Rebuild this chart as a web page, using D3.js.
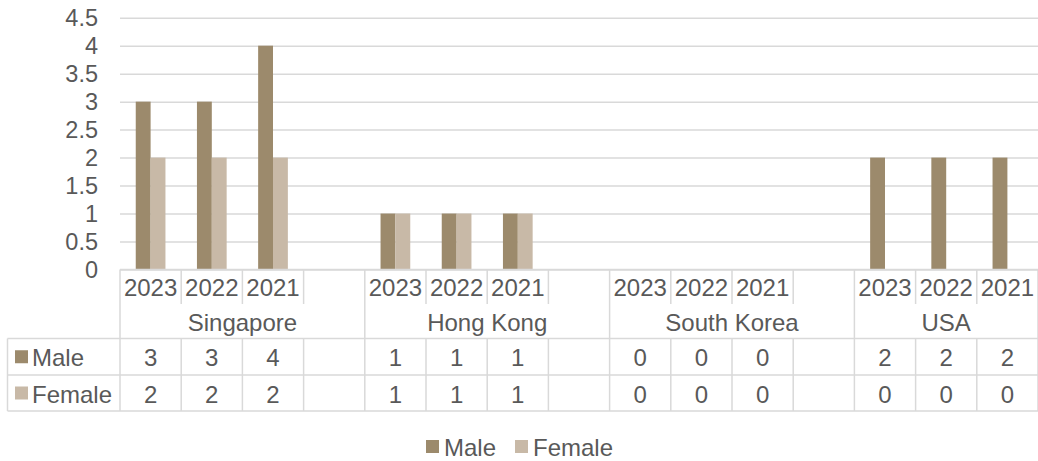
<!DOCTYPE html>
<html><head><meta charset="utf-8">
<script src="https://cdn.jsdelivr.net/npm/d3@7/dist/d3.min.js"></script>
<style>
html,body{margin:0;padding:0;background:#fff;}
svg{display:block;font-family:"Liberation Sans",Arial,sans-serif;}
</style></head>
<body>
<svg id="c" width="1038" height="461"></svg>
<script>
// ---- data ----
const countries = ["Singapore", "Hong Kong", "South Korea", "USA"];
const slotCountry = ["Singapore","Singapore","Singapore","Singapore",
                     "Hong Kong","Hong Kong","Hong Kong","Hong Kong",
                     "South Korea","South Korea","South Korea","South Korea",
                     "USA","USA","USA"];
const slotYear = ["2023","2022","2021","",
                  "2023","2022","2021","",
                  "2023","2022","2021","",
                  "2023","2022","2021"];
const maleValues   = [3,3,4,null, 1,1,1,null, 0,0,0,null, 2,2,2];
const femaleValues = [2,2,2,null, 1,1,1,null, 0,0,0,null, 0,0,0];
const seriesNames = ["Male", "Female"];
const seriesColors = ["#9C8A6C", "#C8B9A7"];
const yTicks = [0, 0.5, 1, 1.5, 2, 2.5, 3, 3.5, 4, 4.5];

// ---- layout ----
const svg = d3.select("#c");
const plotL = 120, plotR = 1038, plotT = 17.7, plotB = 269.5;
const rowYearB = 304, rowCountryB = 338.5, rowMaleB = 375, rowFemaleB = 411;
const legendColL = 7.5;
const textColor = "#595959", gridColor = "#D9D9D9";
const fs = 24;

const idx = d3.range(slotYear.length);
const x = d3.scaleBand().domain(idx).range([plotL, plotR]).paddingInner(0).paddingOuter(0);
const y = d3.scaleLinear().domain([0, 4.5]).range([plotB, plotT]);
const inner = d3.scaleBand().domain([0,1]).range([0, x.bandwidth()]).paddingInner(0).paddingOuter(1.06);

// gridlines
const yAxis = d3.axisLeft(y).tickValues(yTicks).tickSize(-(plotR - plotL)).tickFormat(d3.format("~g")).tickPadding(22);
const gy = svg.append("g").attr("transform", `translate(${plotL},0)`).call(yAxis);
gy.select(".domain").remove();
gy.selectAll(".tick line").attr("stroke", gridColor).attr("stroke-width", 1.5);
gy.selectAll(".tick text").attr("fill", textColor).attr("font-size", 23.5).attr("font-family", "Liberation Sans, Arial, sans-serif");

// bars
const series = [maleValues, femaleValues];
series.forEach((vals, si) => {
  svg.append("g").selectAll("rect")
    .data(idx.filter(i => vals[i] != null && vals[i] > 0))
    .join("rect")
    .attr("x", i => x(i) + inner(si))
    .attr("width", inner.bandwidth())
    .attr("y", i => y(vals[i]))
    .attr("height", i => y(0) - y(vals[i]))
    .attr("fill", seriesColors[si]);
});

// ---- data table ----
const t = svg.append("g").attr("stroke", gridColor).attr("stroke-width", 1.5).attr("fill", "none");
t.append("line").attr("x1", plotL).attr("x2", plotR).attr("y1", plotB).attr("y2", plotB);
[rowCountryB, rowMaleB, rowFemaleB].forEach(yy =>
  t.append("line").attr("x1", legendColL).attr("x2", plotR).attr("y1", yy).attr("y2", yy));
t.append("line").attr("x1", legendColL).attr("x2", legendColL).attr("y1", rowCountryB).attr("y2", rowFemaleB);
const bounds = idx.map(i => x(i)).concat([plotR]);
bounds.forEach((bx, k) => {
  const isCountryBound = k === 0 || k === bounds.length - 1 || slotCountry[k] !== slotCountry[k - 1];
  if (isCountryBound) {
    t.append("line").attr("x1", bx).attr("x2", bx).attr("y1", plotB).attr("y2", rowFemaleB);
  } else {
    t.append("line").attr("x1", bx).attr("x2", bx).attr("y1", plotB).attr("y2", rowYearB);
    t.append("line").attr("x1", bx).attr("x2", bx).attr("y1", rowCountryB).attr("y2", rowFemaleB);
  }
});

const txt = svg.append("g").attr("fill", textColor).attr("font-size", fs).attr("text-anchor", "middle");
txt.selectAll(".yr").data(idx).join("text").attr("class", "yr")
  .attr("x", i => x(i) + x.bandwidth() / 2).attr("y", (plotB + rowYearB) / 2 + 1)
  .attr("dominant-baseline", "central").text(i => slotYear[i]);
countries.forEach(c => {
  const sl = idx.filter(i => slotCountry[i] === c);
  const x0 = x(sl[0]), x1 = x(sl[sl.length - 1]) + x.bandwidth();
  txt.append("text").attr("x", (x0 + x1) / 2).attr("y", (rowYearB + rowCountryB) / 2 + 1)
    .attr("dominant-baseline", "central").text(c);
});
const rowsY = [(rowCountryB + rowMaleB) / 2, (rowMaleB + rowFemaleB) / 2];
series.forEach((vals, si) => {
  txt.append("g").selectAll("text").data(idx.filter(i => vals[i] != null)).join("text")
    .attr("x", i => x(i) + x.bandwidth() / 2).attr("y", rowsY[si] + 1)
    .attr("dominant-baseline", "central").text(i => vals[i]);
  svg.append("rect").attr("x", 15).attr("y", rowsY[si] - 6.5).attr("width", 13).attr("height", 13).attr("fill", seriesColors[si]);
  svg.append("text").attr("x", 32).attr("y", rowsY[si] + 1).attr("dominant-baseline", "central")
    .attr("fill", textColor).attr("font-size", fs).text(seriesNames[si]);
});

// legend
const legY = 446.5;
const leg = svg.append("g");
const legX = [426, 515];
seriesNames.forEach((n, si) => {
  leg.append("rect").attr("x", legX[si]).attr("y", legY - 6.5).attr("width", 13).attr("height", 13).attr("fill", seriesColors[si]);
  leg.append("text").attr("x", legX[si] + 18).attr("y", legY + 1).attr("dominant-baseline", "central")
    .attr("fill", textColor).attr("font-size", fs).text(n);
});
</script>
</body></html>
